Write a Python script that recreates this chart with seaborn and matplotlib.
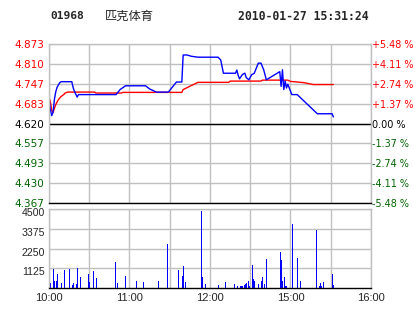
import matplotlib
matplotlib.use("Agg")
import matplotlib.pyplot as plt
import matplotlib.transforms as mtransforms
import seaborn as sns
import pandas as pd

# ---------------- data ----------------
code = "01968"
name = "匹克体育"
stamp = "2010-01-27 15:31:24"

# minutes since 10:00 on a trading clock (10:00-12:30, 14:30-16:00)
price_min = [0, 1, 2, 3, 4, 5, 6, 8, 9, 17, 18, 19, 21, 22, 50, 53, 57, 72, 75, 80,
             89, 95, 99, 100, 103, 106, 111, 126, 128, 130, 139, 140, 141, 142, 144,
             145, 146, 147, 149, 151, 153, 156, 158, 160, 162, 172, 173, 174, 175,
             176, 177, 178, 181, 185, 200, 211, 212]
price = [4.700, 4.665, 4.645, 4.655, 4.696, 4.720, 4.735, 4.750, 4.753, 4.753, 4.734,
         4.722, 4.704, 4.712, 4.712, 4.728, 4.740, 4.740, 4.730, 4.720, 4.720, 4.752,
         4.752, 4.838, 4.838, 4.834, 4.831, 4.831, 4.822, 4.780, 4.780, 4.790, 4.773,
         4.762, 4.775, 4.778, 4.780, 4.766, 4.759, 4.775, 4.780, 4.812, 4.812, 4.791,
         4.759, 4.785, 4.738, 4.791, 4.728, 4.755, 4.733, 4.745, 4.712, 4.712, 4.651,
         4.651, 4.641]

avg_min = [0, 1, 2, 3, 4, 5, 7, 9, 11, 12, 14, 34, 35, 54, 55, 99, 100, 111, 134,
           135, 158, 159, 178, 180, 190, 197, 212]
avg_price = [4.703, 4.690, 4.662, 4.655, 4.668, 4.680, 4.696, 4.706, 4.712, 4.717,
             4.720, 4.720, 4.717, 4.717, 4.719, 4.719, 4.728, 4.751, 4.751, 4.755,
             4.755, 4.758, 4.758, 4.754, 4.750, 4.744, 4.744]

vol_min = [1, 3, 4, 5, 6, 9, 11, 15, 17, 18, 20, 21, 23, 29, 30, 33, 35, 49, 51, 57,
           65, 70, 81, 88, 96, 99, 100, 101, 113, 114, 116, 126, 131, 138, 140, 142,
           143, 144, 145, 146, 147, 148, 149, 151, 152, 153, 156, 158, 159, 160, 162,
           172, 173, 174, 175, 176, 177, 181, 185, 187, 199, 201, 202, 203, 204, 211, 212]
volume = [285, 1100, 400, 400, 800, 285, 1000, 1100, 170, 285, 250, 1140, 630, 800,
          330, 970, 570, 1480, 300, 680, 420, 320, 420, 2500, 1000, 680, 1250, 320,
          4400, 630, 250, 170, 320, 250, 130, 120, 120, 120, 170, 250, 300, 400, 130,
          1310, 520, 400, 250, 400, 630, 250, 1650, 2050, 1600, 420, 630, 130, 130,
          3650, 1700, 400, 3300, 130, 300, 130, 320, 800, 170]

price_ticks = [4.367, 4.430, 4.493, 4.557, 4.620, 4.683, 4.747, 4.810, 4.873]
price_labels = ["4.367", "4.430", "4.493", "4.557", "4.620", "4.683", "4.747", "4.810", "4.873"]
pct_labels = ["-5.48 %", "-4.11 %", "-2.74 %", "-1.37 %", "0.00 %",
              "+1.37 %", "+2.74 %", "+4.11 %", "+5.48 %"]
prev_close = 4.620
vol_ticks = [1125, 2250, 3375, 4500]
vol_labels = ["1125", "2250", "3375", "4500"]
time_ticks = [0, 30, 60, 90, 120, 150, 180, 210, 240]
time_labels = ["10:00", "", "11:00", "", "12:00", "", "15:00", "", "16:00"]

# ---------------- style ----------------
sns.set_style("white")
plt.rcParams["font.family"] = ["DejaVu Sans"]

RED = "#ff0000"
GREEN = "#006400"
BLUE = "#0000ff"
GRID = "#c0c0c0"

fig = plt.figure(figsize=(4.14, 3.14), dpi=100)
W, H = 414, 314
L, R = 49, 371
ax1 = fig.add_axes([L / W, (H - 203) / H, (R - L) / W, (203 - 44) / H])
ax2 = fig.add_axes([L / W, (H - 288) / H, (R - L) / W, (288 - 209) / H])

df_p = pd.DataFrame({"m": price_min, "p": price})
df_a = pd.DataFrame({"m": avg_min, "p": avg_price})

for ax in (ax1, ax2):
    ax.set_xlim(0, 240)
    ax.set_xticks(time_ticks)
    ax.grid(True, color=GRID, linewidth=1)
    ax.set_axisbelow(True)
    for s in ax.spines.values():
        s.set_color(GRID)
        s.set_linewidth(1)
    ax.spines["bottom"].set_color("black")
    ax.tick_params(length=0)

# price panel
sns.lineplot(data=df_a, x="m", y="p", ax=ax1, color=RED, linewidth=1.0,
             estimator=None, sort=False)
sns.lineplot(data=df_p, x="m", y="p", ax=ax1, color=BLUE, linewidth=1.0,
             estimator=None, sort=False)
ax1.axhline(prev_close, color="black", linewidth=1, zorder=1.5)
ax1.set_ylim(price_ticks[0], price_ticks[-1])
ax1.set_yticks(price_ticks)
ax1.set_yticklabels(price_labels, fontsize=7.5)
ax1.set_xticklabels([])
ax1.set_xlabel("")
ax1.set_ylabel("")
ax1.tick_params(axis="y", pad=3.6)


def col(v):
    if abs(v - prev_close) < 1e-9:
        return "black"
    return RED if v > prev_close else GREEN


for lab, v in zip(ax1.get_yticklabels(), price_ticks):
    lab.set_color(col(v))

axr = ax1.twinx()
axr.set_ylim(price_ticks[0], price_ticks[-1])
axr.set_yticks(price_ticks)
axr.set_yticklabels(pct_labels, fontsize=6.9)
axr.tick_params(length=0, pad=0.6)
for s in axr.spines.values():
    s.set_visible(False)
for lab, v in zip(axr.get_yticklabels(), price_ticks):
    lab.set_color(col(v))
axr.grid(False)

# volume panel
ax2.vlines(vol_min, 0, volume, colors=BLUE, linewidth=0.5, antialiased=False)
ax2.set_ylim(0, 4500)
ax2.set_yticks(vol_ticks)
ax2.set_yticklabels(vol_labels, fontsize=7.6, family=["Liberation Sans"])
ax2.set_xticklabels(time_labels, fontsize=8, family=["Liberation Sans"])
ax2.tick_params(axis="y", pad=3.0)
ax2.tick_params(axis="x", pad=3.6)
off = mtransforms.ScaledTranslation(0, -3 / 100, fig.dpi_scale_trans)
for lab in ax2.get_yticklabels():
    lab.set_transform(lab.get_transform() + off)

# header
fig.text(50 / W, 1 - 16 / H, code, family="DejaVu Sans Mono", weight="bold",
         fontsize=8.1, va="center", ha="left")
fig.text(105 / W, 1 - 16 / H, name, family=["Noto Sans CJK SC", "DejaVu Sans"],
         fontsize=8.8, va="center", ha="left")
fig.text(238 / W, 1 - 16 / H, stamp, family="DejaVu Sans Mono", weight="bold",
         fontsize=8.3, va="center", ha="left")

fig.savefig("out.png", dpi=100)
